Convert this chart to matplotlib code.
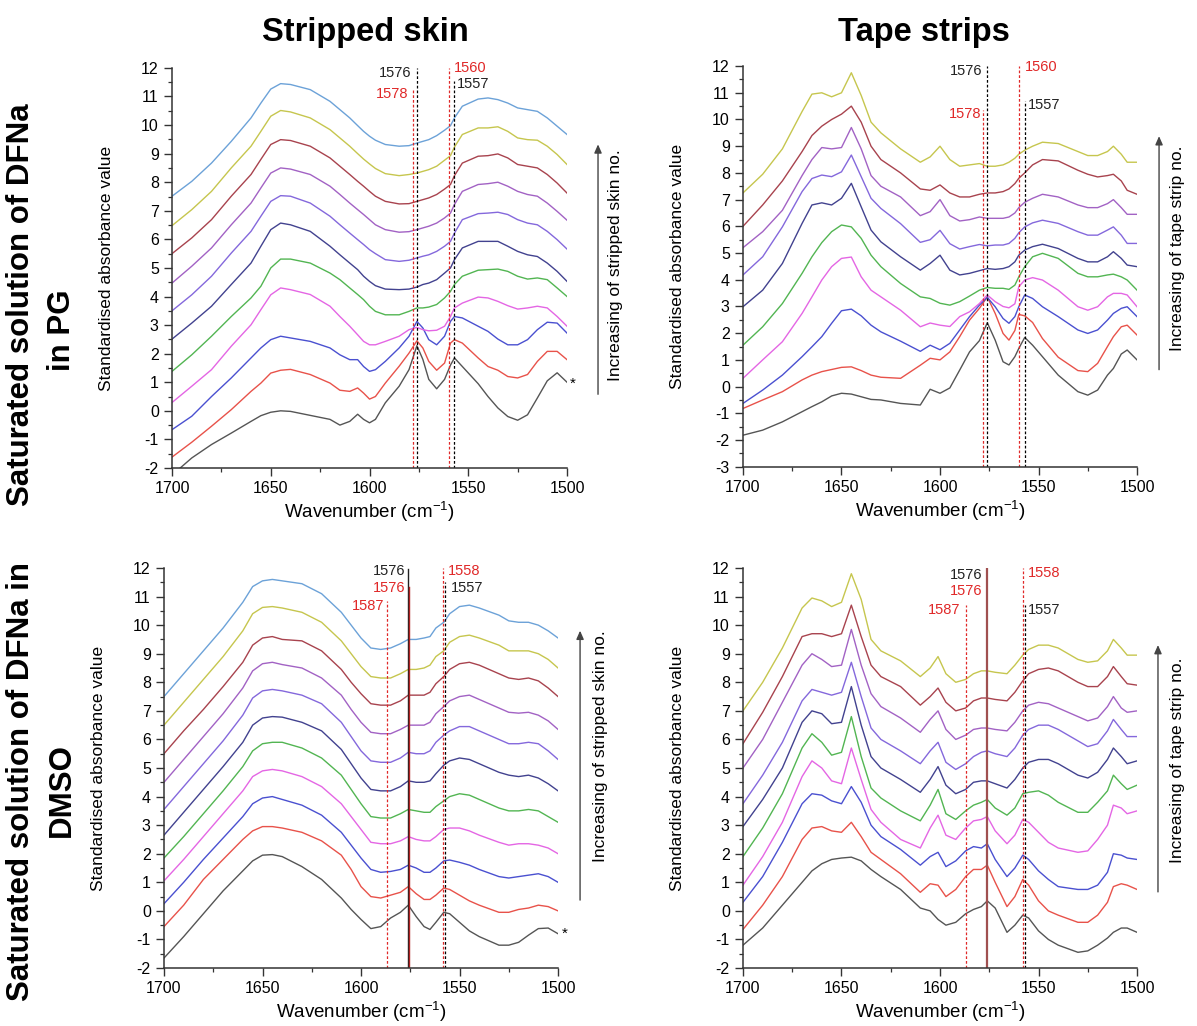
import numpy as np
import matplotlib
matplotlib.use('Agg')
import matplotlib.pyplot as plt
from matplotlib.ticker import MultipleLocator

plt.rcParams['font.family'] = ['Liberation Sans', 'DejaVu Sans']
plt.rcParams['mathtext.default'] = 'regular'
plt.rcParams['axes.unicode_minus'] = False

# colours of the spectra, bottom curve first
cores = ['#555555', '#e8524a', '#4a50d0', '#e466e4', '#52b552', '#42428f',
         '#8468dc', '#a262c4', '#a8434e', '#c6c64e', '#6ca2d8']

# ---- PG, stripped skin ----
wn_pg_skin = [1700, 1690, 1680, 1670, 1660, 1655, 1650, 1645, 1640, 1630, 1620, 1615, 1610,
              1606, 1603, 1600, 1597, 1592, 1585, 1580, 1576, 1573, 1570, 1566, 1562, 1559,
              1557, 1553, 1545, 1540, 1535, 1530, 1525, 1520, 1515, 1510, 1505, 1500]
pg_skin_1 = [-2.25, -1.65, -1.18, -0.78, -0.37, -0.17, -0.05, 0.0, -0.02, -0.16, -0.3, -0.5, -0.37,
             -0.12, -0.3, -0.42, -0.3, 0.28, 0.86, 1.44, 2.28, 1.8, 1.1, 0.77, 1.1, 1.6,
             1.85, 1.55, 0.95, 0.5, 0.1, -0.2, -0.33, -0.14, 0.45, 1.05, 1.33, 1.0]
pg_skin_2 = [-1.62, -1.1, -0.54, 0.04, 0.68, 0.97, 1.32, 1.42, 1.45, 1.27, 0.97, 0.72, 0.68,
             0.8, 0.62, 0.41, 0.5, 0.97, 1.56, 2.02, 2.45, 2.2, 1.73, 1.42, 1.67, 2.37,
             2.49, 2.37, 1.85, 1.55, 1.42, 1.2, 1.15, 1.27, 1.73, 2.08, 2.08, 1.79]
pg_skin_3 = [-0.66, -0.19, 0.5, 1.15, 1.85, 2.2, 2.49, 2.61, 2.55, 2.43, 2.2, 1.96, 1.79,
             1.79, 1.55, 1.38, 1.44, 1.73, 2.2, 2.61, 3.13, 2.9, 2.49, 2.31, 2.61, 3.13,
             3.3, 3.25, 2.96, 2.78, 2.51, 2.31, 2.31, 2.49, 2.84, 3.1, 3.07, 2.72]
pg_skin_4 = [0.29, 0.86, 1.44, 2.26, 3.01, 3.54, 4.06, 4.3, 4.24, 4.07, 3.66, 3.3, 2.96,
             2.66, 2.43, 2.31, 2.31, 2.43, 2.61, 2.84, 2.92, 2.84, 2.8, 2.82, 2.96, 3.3,
             3.6, 3.77, 3.98, 3.95, 3.83, 3.68, 3.56, 3.6, 3.66, 3.6, 3.3, 2.96]
pg_skin_5 = [1.38, 1.96, 2.61, 3.3, 3.95, 4.36, 5.0, 5.31, 5.31, 5.17, 4.82, 4.59, 4.3,
             4.07, 3.89, 3.66, 3.48, 3.36, 3.36, 3.48, 3.6, 3.6, 3.63, 3.72, 3.95, 4.18,
             4.42, 4.71, 4.92, 4.94, 4.96, 4.88, 4.71, 4.61, 4.65, 4.59, 4.3, 4.0]
pg_skin_6 = [2.51, 3.07, 3.66, 4.42, 5.17, 5.76, 6.34, 6.57, 6.51, 6.28, 5.76, 5.46, 5.17,
             4.94, 4.71, 4.53, 4.38, 4.26, 4.24, 4.26, 4.33, 4.42, 4.47, 4.59, 4.82, 5.0,
             5.29, 5.7, 5.93, 5.93, 5.93, 5.76, 5.58, 5.46, 5.4, 5.17, 4.88, 4.53]
pg_skin_7 = [3.5, 4.06, 4.71, 5.52, 6.28, 6.81, 7.33, 7.53, 7.51, 7.27, 6.81, 6.51, 6.22,
             5.99, 5.82, 5.64, 5.5, 5.29, 5.23, 5.27, 5.35, 5.41, 5.46, 5.58, 5.76, 5.93,
             6.22, 6.69, 6.9, 6.92, 6.95, 6.87, 6.69, 6.57, 6.51, 6.28, 5.99, 5.66]
pg_skin_8 = [4.47, 5.06, 5.7, 6.51, 7.27, 7.8, 8.32, 8.5, 8.46, 8.27, 7.86, 7.57, 7.27,
             7.04, 6.87, 6.69, 6.51, 6.34, 6.25, 6.27, 6.34, 6.4, 6.46, 6.57, 6.75, 6.92,
             7.22, 7.68, 7.92, 7.95, 8.0, 7.86, 7.68, 7.57, 7.51, 7.27, 6.98, 6.67]
pg_skin_9 = [5.5, 6.05, 6.69, 7.51, 8.27, 8.8, 9.32, 9.49, 9.46, 9.26, 8.85, 8.56, 8.27,
             8.03, 7.86, 7.68, 7.51, 7.33, 7.24, 7.25, 7.33, 7.39, 7.45, 7.57, 7.76, 7.92,
             8.23, 8.67, 8.91, 8.93, 8.99, 8.85, 8.62, 8.56, 8.5, 8.27, 7.97, 7.62]
pg_skin_10 = [6.48, 7.04, 7.68, 8.5, 9.26, 9.78, 10.31, 10.51, 10.46, 10.25, 9.84, 9.55, 9.26,
              9.0, 8.81, 8.64, 8.48, 8.3, 8.23, 8.27, 8.32, 8.38, 8.44, 8.56, 8.77, 8.93,
              9.23, 9.67, 9.9, 9.9, 9.94, 9.78, 9.55, 9.49, 9.47, 9.26, 8.97, 8.62]
pg_skin_11 = [7.51, 8.03, 8.67, 9.43, 10.25, 10.77, 11.26, 11.45, 11.42, 11.24, 10.83, 10.54, 10.25,
              9.98, 9.78, 9.61, 9.47, 9.32, 9.26, 9.28, 9.37, 9.43, 9.49, 9.63, 9.82, 9.98,
              10.25, 10.66, 10.91, 10.95, 10.89, 10.77, 10.6, 10.54, 10.48, 10.25, 9.96, 9.67]

# ---- PG, tape strips ----
wn_pg_tape = [1700, 1690, 1680, 1670, 1665, 1660, 1655, 1650, 1645, 1640, 1635, 1630, 1620,
              1610, 1605, 1600, 1595, 1590, 1585, 1580, 1576, 1572, 1568, 1565, 1562, 1560,
              1557, 1553, 1548, 1540, 1530, 1525, 1520, 1515, 1512, 1508, 1505, 1500]
pg_tape_1 = [-1.82, -1.63, -1.32, -0.94, -0.75, -0.57, -0.35, -0.25, -0.28, -0.38, -0.48, -0.5, -0.63,
             -0.69, -0.1, -0.25, -0.05, 0.62, 1.3, 1.72, 2.39, 1.74, 0.93, 0.81, 1.12, 1.43,
             1.84, 1.55, 1.12, 0.43, -0.19, -0.32, -0.13, 0.43, 0.68, 1.22, 1.37, 1.0]
pg_tape_2 = [-0.82, -0.5, -0.19, 0.25, 0.43, 0.56, 0.64, 0.72, 0.74, 0.6, 0.43, 0.35, 0.31,
             0.8, 1.06, 1.0, 1.3, 1.87, 2.49, 2.93, 3.36, 2.74, 1.99, 1.74, 2.1, 2.7,
             2.65, 2.4, 1.8, 1.1, 0.6, 0.56, 0.87, 1.5, 1.87, 2.24, 2.3, 1.93]
pg_tape_3 = [-0.63, -0.13, 0.43, 1.12, 1.49, 1.87, 2.37, 2.84, 2.9, 2.65, 2.3, 2.05, 1.7,
             1.32, 1.55, 1.38, 1.62, 2.12, 2.62, 3.05, 3.34, 2.99, 2.55, 2.37, 2.62, 2.99,
             3.43, 3.3, 2.99, 2.62, 2.12, 1.99, 2.12, 2.49, 2.74, 2.93, 2.99, 2.62]
pg_tape_4 = [0.31, 1.0, 1.68, 2.74, 3.36, 3.99, 4.49, 4.8, 4.85, 4.11, 3.61, 3.36, 2.86,
             2.24, 2.38, 2.3, 2.25, 2.62, 2.8, 3.11, 3.43, 3.18, 3.0, 2.95, 3.1, 3.74,
             3.99, 4.08, 3.99, 3.61, 2.99, 2.86, 2.99, 3.36, 3.49, 3.49, 3.43, 2.99]
pg_tape_5 = [1.55, 2.24, 3.11, 4.24, 4.86, 5.39, 5.8, 6.05, 5.98, 5.55, 4.92, 4.49, 3.86,
             3.36, 3.3, 3.12, 3.05, 3.18, 3.39, 3.61, 3.71, 3.68, 3.68, 3.64, 3.8, 4.11,
             4.49, 4.86, 4.99, 4.8, 4.24, 4.11, 4.11, 4.18, 4.21, 4.11, 3.99, 3.61]
pg_tape_6 = [2.99, 3.61, 4.61, 6.11, 6.8, 6.88, 6.8, 7.05, 7.61, 6.73, 5.86, 5.42, 4.86,
             4.36, 4.61, 4.92, 4.36, 4.18, 4.24, 4.34, 4.42, 4.39, 4.42, 4.49, 4.67, 4.92,
             5.11, 5.24, 5.33, 5.17, 4.8, 4.67, 4.67, 4.86, 5.05, 4.8, 4.55, 4.49]
pg_tape_7 = [4.18, 4.86, 5.98, 7.3, 7.79, 7.92, 7.86, 8.04, 8.67, 7.86, 7.05, 6.67, 6.1,
             5.4, 5.5, 5.85, 5.35, 5.15, 5.24, 5.32, 5.27, 5.3, 5.3, 5.36, 5.55, 5.76,
             5.98, 6.13, 6.23, 6.11, 5.8, 5.67, 5.67, 5.86, 5.98, 5.67, 5.36, 5.36]
pg_tape_8 = [5.2, 5.8, 6.6, 7.9, 8.5, 8.95, 8.9, 8.95, 9.7, 8.9, 7.9, 7.5, 7.1,
             6.4, 6.55, 7.0, 6.4, 6.2, 6.25, 6.35, 6.3, 6.3, 6.3, 6.35, 6.5, 6.7,
             6.9, 7.05, 7.2, 7.1, 6.8, 6.7, 6.7, 6.85, 7.0, 6.7, 6.45, 6.45]
pg_tape_9 = [6.0, 6.8, 7.7, 8.8, 9.4, 9.75, 10.0, 10.2, 10.5, 9.9, 9.0, 8.5, 8.0,
             7.4, 7.35, 7.55, 7.25, 7.1, 7.1, 7.2, 7.25, 7.25, 7.3, 7.4, 7.6, 7.8,
             8.0, 8.3, 8.5, 8.45, 8.1, 7.95, 7.85, 7.9, 7.95, 7.7, 7.35, 7.2]
pg_tape_10 = [7.25, 7.95, 8.9, 10.3, 10.95, 11.0, 10.85, 11.0, 11.75, 10.9, 9.9, 9.5, 8.9,
              8.4, 8.6, 9.0, 8.5, 8.25, 8.3, 8.35, 8.25, 8.25, 8.3, 8.4, 8.55, 8.7,
              8.85, 9.0, 9.15, 9.1, 8.8, 8.65, 8.65, 8.8, 9.0, 8.7, 8.4, 8.4]

# ---- DMSO, stripped skin ----
wn_dmso_skin = [1700, 1690, 1680, 1670, 1660, 1655, 1650, 1645, 1640, 1630, 1620, 1610, 1605,
                1600, 1595, 1590, 1585, 1580, 1576, 1572, 1568, 1565, 1562, 1558, 1555, 1550,
                1545, 1540, 1530, 1525, 1520, 1515, 1510, 1505, 1500]
dmso_skin_1 = [-1.65, -0.9, -0.1, 0.7, 1.4, 1.75, 1.95, 1.97, 1.9, 1.55, 1.1, 0.45, 0.05,
               -0.3, -0.62, -0.55, -0.25, -0.05, 0.2, -0.2, -0.55, -0.65, -0.4, -0.05, -0.1, -0.4,
               -0.7, -0.9, -1.2, -1.2, -1.1, -0.85, -0.62, -0.6, -0.8]
dmso_skin_2 = [-0.55, 0.2, 1.1, 1.8, 2.5, 2.8, 2.95, 2.95, 2.9, 2.75, 2.45, 1.95, 1.45,
               0.85, 0.5, 0.45, 0.55, 0.65, 0.85, 0.6, 0.4, 0.4, 0.55, 0.8, 0.75, 0.55,
               0.35, 0.2, -0.05, -0.05, 0.05, 0.1, 0.2, 0.15, 0.0]
dmso_skin_3 = [0.25, 1.0, 1.8, 2.55, 3.3, 3.75, 3.95, 4.0, 3.9, 3.7, 3.35, 2.75, 2.3,
               1.85, 1.45, 1.35, 1.38, 1.45, 1.6, 1.5, 1.35, 1.35, 1.5, 1.75, 1.78, 1.7,
               1.6, 1.45, 1.2, 1.15, 1.2, 1.25, 1.3, 1.2, 1.0]
dmso_skin_4 = [1.05, 1.8, 2.6, 3.4, 4.2, 4.7, 4.9, 4.95, 4.9, 4.7, 4.35, 3.75, 3.3,
               2.85, 2.4, 2.35, 2.35, 2.45, 2.6, 2.5, 2.45, 2.45, 2.6, 2.85, 2.9, 2.9,
               2.8, 2.65, 2.4, 2.3, 2.35, 2.35, 2.3, 2.2, 2.0]
dmso_skin_5 = [1.85, 2.6, 3.4, 4.2, 5.05, 5.6, 5.85, 5.9, 5.9, 5.7, 5.35, 4.75, 4.25,
               3.75, 3.3, 3.25, 3.25, 3.4, 3.55, 3.5, 3.45, 3.45, 3.65, 3.85, 4.0, 4.1,
               4.05, 3.9, 3.6, 3.5, 3.5, 3.55, 3.5, 3.3, 3.1]
dmso_skin_6 = [2.65, 3.45, 4.25, 5.05, 5.9, 6.5, 6.75, 6.8, 6.78, 6.6, 6.3, 5.65, 5.15,
               4.65, 4.25, 4.2, 4.2, 4.35, 4.55, 4.5, 4.5, 4.55, 4.8, 5.1, 5.25, 5.35,
               5.3, 5.15, 4.85, 4.75, 4.7, 4.75, 4.65, 4.45, 4.2]
dmso_skin_7 = [3.55, 4.35, 5.15, 5.95, 6.85, 7.45, 7.7, 7.75, 7.7, 7.55, 7.25, 6.6, 6.1,
               5.6, 5.25, 5.2, 5.2, 5.35, 5.55, 5.5, 5.5, 5.6, 5.9, 6.15, 6.3, 6.45,
               6.45, 6.3, 6.0, 5.85, 5.85, 5.9, 5.85, 5.6, 5.3]
dmso_skin_8 = [4.5, 5.3, 6.1, 6.9, 7.8, 8.4, 8.65, 8.7, 8.62, 8.5, 8.15, 7.55, 7.05,
               6.6, 6.25, 6.2, 6.2, 6.35, 6.5, 6.5, 6.5, 6.6, 6.9, 7.15, 7.35, 7.5,
               7.55, 7.4, 7.1, 6.95, 6.92, 6.95, 6.85, 6.65, 6.35]
dmso_skin_9 = [5.5, 6.3, 7.05, 7.85, 8.7, 9.3, 9.55, 9.6, 9.5, 9.45, 9.1, 8.45, 8.0,
               7.6, 7.25, 7.2, 7.2, 7.35, 7.55, 7.55, 7.55, 7.65, 7.95, 8.2, 8.45, 8.65,
               8.7, 8.6, 8.3, 8.15, 8.1, 8.15, 8.05, 7.8, 7.5]
dmso_skin_10 = [6.5, 7.3, 8.1, 8.9, 9.8, 10.4, 10.62, 10.65, 10.6, 10.45, 10.1, 9.45, 9.0,
                8.55, 8.2, 8.15, 8.15, 8.3, 8.45, 8.45, 8.5, 8.6, 8.9, 9.1, 9.4, 9.6,
                9.65, 9.55, 9.3, 9.1, 9.1, 9.1, 9.0, 8.8, 8.5]
dmso_skin_11 = [7.5, 8.3, 9.1, 9.9, 10.8, 11.35, 11.55, 11.6, 11.55, 11.45, 11.1, 10.45, 10.0,
                9.55, 9.2, 9.15, 9.2, 9.35, 9.5, 9.5, 9.55, 9.6, 9.9, 10.1, 10.4, 10.65,
                10.7, 10.6, 10.35, 10.15, 10.1, 10.1, 10.0, 9.8, 9.55]

# ---- DMSO, tape strips ----
wn_dmso_tape = [1700, 1690, 1680, 1670, 1665, 1660, 1655, 1650, 1645, 1640, 1635, 1630, 1620,
                1610, 1605, 1601, 1597, 1592, 1587, 1583, 1579, 1576, 1572, 1566, 1562, 1558,
                1555, 1550, 1545, 1540, 1530, 1525, 1520, 1515, 1512, 1508, 1505, 1500]
dmso_tape_1 = [-1.2, -0.6, 0.2, 1.0, 1.4, 1.65, 1.8, 1.85, 1.88, 1.75, 1.45, 1.2, 0.75,
               0.1, 0.0, -0.3, -0.5, -0.4, -0.1, 0.05, 0.15, 0.35, 0.1, -0.75, -0.5, -0.15,
               -0.25, -0.7, -1.0, -1.2, -1.45, -1.4, -1.2, -0.95, -0.75, -0.6, -0.6, -0.75]
dmso_tape_2 = [-0.65, 0.2, 1.2, 2.5, 2.9, 2.95, 2.8, 2.75, 3.1, 2.6, 2.05, 1.8, 1.3,
               0.65, 0.95, 0.9, 0.5, 0.75, 1.2, 1.45, 1.45, 1.6, 1.0, 0.15, 0.5, 1.1,
               0.9, 0.35, 0.0, -0.15, -0.4, -0.4, -0.15, 0.3, 0.85, 0.95, 0.9, 0.75]
dmso_tape_3 = [0.3, 1.2, 2.4, 3.75, 4.1, 4.05, 3.85, 3.75, 4.35, 3.8, 3.0, 2.6, 2.15,
               1.6, 1.9, 2.05, 1.55, 1.75, 2.1, 2.25, 2.2, 2.35, 1.8, 1.2, 1.5, 1.95,
               1.8, 1.4, 1.1, 0.85, 0.75, 0.75, 0.9, 1.35, 2.0, 1.95, 1.85, 1.8]
dmso_tape_4 = [0.9, 1.9, 3.1, 4.7, 5.25, 5.0, 4.55, 4.45, 5.7, 4.6, 3.55, 3.1, 2.5,
               2.2, 2.9, 3.35, 2.65, 2.5, 2.9, 3.15, 3.2, 3.3, 2.8, 2.35, 2.65, 3.2,
               3.1, 2.75, 2.4, 2.2, 2.05, 2.1, 2.5, 3.0, 3.7, 3.6, 3.4, 3.5]
dmso_tape_5 = [1.9, 2.9, 4.1, 5.7, 6.2, 5.9, 5.45, 5.55, 6.8, 5.4, 4.3, 3.95, 3.5,
               3.15, 3.7, 4.25, 3.4, 3.2, 3.5, 3.7, 3.8, 3.9, 3.6, 3.35, 3.6, 4.1,
               4.15, 4.2, 4.05, 3.8, 3.45, 3.45, 3.8, 4.2, 4.75, 4.45, 4.25, 4.4]
dmso_tape_6 = [2.95, 3.9, 5.0, 6.6, 7.0, 6.9, 6.55, 6.6, 7.85, 6.5, 5.4, 5.0, 4.6,
               4.15, 4.6, 5.05, 4.4, 4.1, 4.25, 4.5, 4.55, 4.55, 4.45, 4.3, 4.6, 5.0,
               5.2, 5.3, 5.3, 5.15, 4.75, 4.65, 4.85, 5.3, 5.7, 5.4, 5.15, 5.25]
dmso_tape_7 = [3.75, 4.75, 5.9, 7.35, 7.75, 7.65, 7.55, 7.65, 8.7, 7.5, 6.4, 6.0, 5.6,
               5.15, 5.6, 5.9, 5.2, 4.95, 5.15, 5.4, 5.55, 5.6, 5.5, 5.4, 5.7, 6.15,
               6.35, 6.5, 6.5, 6.35, 5.95, 5.75, 5.85, 6.3, 6.7, 6.35, 6.1, 6.1]
dmso_tape_8 = [5.0, 6.0, 7.3, 8.6, 9.0, 8.8, 8.55, 8.6, 9.85, 8.6, 7.6, 7.15, 6.75,
               6.25, 6.7, 7.0, 6.35, 6.0, 6.15, 6.35, 6.4, 6.4, 6.35, 6.3, 6.6, 7.0,
               7.2, 7.3, 7.25, 7.1, 6.8, 6.65, 6.75, 7.15, 7.5, 7.1, 6.95, 7.0]
dmso_tape_9 = [5.85, 6.95, 8.2, 9.6, 9.7, 9.7, 9.6, 9.7, 10.7, 9.6, 8.6, 8.2, 7.85,
               7.2, 7.5, 7.8, 7.3, 7.0, 7.1, 7.35, 7.45, 7.45, 7.4, 7.35, 7.65, 8.05,
               8.3, 8.45, 8.5, 8.4, 8.0, 7.85, 7.85, 8.2, 8.55, 8.2, 7.95, 7.9]
dmso_tape_10 = [7.0, 8.0, 9.2, 10.6, 10.95, 10.85, 10.65, 10.8, 11.8, 10.9, 9.5, 9.1, 8.75,
                8.2, 8.5, 8.9, 8.3, 8.0, 8.1, 8.3, 8.4, 8.4, 8.35, 8.3, 8.6, 8.95,
                9.15, 9.3, 9.3, 9.2, 8.8, 8.7, 8.75, 9.1, 9.5, 9.2, 8.95, 8.95]

# marked band positions (cm-1)
pg_bandas_preto = [1576, 1557]
pg_bandas_verm = [1578, 1560]
dmso_bandas_preto = [1576, 1557]
dmso_bandas_verm = [1587, 1576, 1558]

VERM = '#e02828'
TRAC = (0, (2.2, 1.6))


def painel(ax, wn, curvas, ymin):
    for y, c in zip(curvas, cores):
        ax.plot(wn, y, color=c, lw=1.0)
    ax.set_xlim(1700, 1500)
    ax.set_ylim(ymin, 12)
    ax.spines['top'].set_visible(False)
    ax.spines['right'].set_visible(False)
    for s in ['left', 'bottom']:
        ax.spines[s].set_linewidth(1.1)
        ax.spines[s].set_color('#333333')
    ax.set_xticks([1700, 1650, 1600, 1550, 1500])
    ax.xaxis.set_minor_locator(MultipleLocator(25))
    ax.set_yticks(np.arange(ymin, 13, 1))
    ax.yaxis.set_minor_locator(MultipleLocator(0.5))
    ax.tick_params(which='major', direction='out', length=6, width=1.0,
                   labelsize=11.5, color='#333333')
    ax.tick_params(which='minor', direction='out', length=3, width=0.9, color='#333333')
    ax.set_xlabel('Wavenumber (cm$^{-1}$)', fontsize=13.5, labelpad=3)
    ax.set_ylabel('Standardised absorbance value', fontsize=12.5)
    ax.yaxis.set_label_coords(-0.148, 0.5)


def linha(ax, x, y0, y1, cor, estilo=TRAC, lw=0.9):
    ax.plot([x, x], [y0, y1], color=cor, ls=estilo, lw=lw)


def rotulo(ax, x, y, txt, cor, ha):
    ax.text(x, y, txt, color=cor, ha=ha, va='center', fontsize=10.5)


fig = plt.figure(figsize=(11.97, 10.26), dpi=100)

ax1 = fig.add_axes([0.1437, 0.5439, 0.3300, 0.3899])
ax2 = fig.add_axes([0.6207, 0.5451, 0.3292, 0.3905])
ax3 = fig.add_axes([0.1370, 0.0565, 0.3292, 0.3899])
ax4 = fig.add_axes([0.6207, 0.0565, 0.3292, 0.3899])

painel(ax1, wn_pg_skin, [pg_skin_1, pg_skin_2, pg_skin_3, pg_skin_4, pg_skin_5, pg_skin_6,
                         pg_skin_7, pg_skin_8, pg_skin_9, pg_skin_10, pg_skin_11], -2)
painel(ax2, wn_pg_tape, [pg_tape_1, pg_tape_2, pg_tape_3, pg_tape_4, pg_tape_5, pg_tape_6,
                         pg_tape_7, pg_tape_8, pg_tape_9, pg_tape_10], -3)
painel(ax3, wn_dmso_skin, [dmso_skin_1, dmso_skin_2, dmso_skin_3, dmso_skin_4, dmso_skin_5,
                           dmso_skin_6, dmso_skin_7, dmso_skin_8, dmso_skin_9, dmso_skin_10,
                           dmso_skin_11], -2)
painel(ax4, wn_dmso_tape, [dmso_tape_1, dmso_tape_2, dmso_tape_3, dmso_tape_4, dmso_tape_5,
                           dmso_tape_6, dmso_tape_7, dmso_tape_8, dmso_tape_9, dmso_tape_10], -2)

# PG, stripped skin: band lines
linha(ax1, pg_bandas_preto[0], -2, 12, 'k')
linha(ax1, pg_bandas_verm[0], -2, 11.25, VERM)
linha(ax1, pg_bandas_verm[1], -2, 12, VERM)
linha(ax1, pg_bandas_preto[1], -2, 11.55, 'k')
rotulo(ax1, 1578.6, 11.82, str(pg_bandas_preto[0]), '#222222', 'right')
rotulo(ax1, 1580.3, 11.07, str(pg_bandas_verm[0]), VERM, 'right')
rotulo(ax1, 1557.3, 12.0, str(pg_bandas_verm[1]), VERM, 'left')
rotulo(ax1, 1555.6, 11.42, str(pg_bandas_preto[1]), '#222222', 'left')
ax1.text(1498.8, 0.95, '*', fontsize=11, ha='left', va='center', clip_on=False)

# PG, tape strips
linha(ax2, pg_bandas_preto[0], -3, 12, 'k')
linha(ax2, pg_bandas_verm[0], -3, 10.35, VERM)
linha(ax2, pg_bandas_verm[1], -3, 12, VERM)
linha(ax2, pg_bandas_preto[1], -3, 10.7, 'k')
rotulo(ax2, 1578.4, 11.82, str(pg_bandas_preto[0]), '#222222', 'right')
rotulo(ax2, 1578.8, 10.22, str(pg_bandas_verm[0]), VERM, 'right')
rotulo(ax2, 1556.8, 11.95, str(pg_bandas_verm[1]), VERM, 'left')
rotulo(ax2, 1555.6, 10.55, str(pg_bandas_preto[1]), '#222222', 'left')

# DMSO, stripped skin
linha(ax3, dmso_bandas_verm[0], -2, 10.85, VERM)
linha(ax3, dmso_bandas_preto[0], -2, 11.95, '#222222', '-', 1.0)
linha(ax3, dmso_bandas_verm[1] - 0.25, -2, 11.35, '#b02020', '-', 1.0)
linha(ax3, dmso_bandas_verm[2] + 0.4, -2, 12, VERM)
linha(ax3, dmso_bandas_preto[1] + 0.3, -2, 11.5, 'k')
rotulo(ax3, 1577.4, 11.88, str(dmso_bandas_preto[0]), '#222222', 'right')
rotulo(ax3, 1577.4, 11.3, str(dmso_bandas_verm[1]), VERM, 'right')
rotulo(ax3, 1588.2, 10.66, str(dmso_bandas_verm[0]), VERM, 'right')
rotulo(ax3, 1555.8, 11.9, str(dmso_bandas_verm[2]), VERM, 'left')
rotulo(ax3, 1554.3, 11.3, str(dmso_bandas_preto[1]), '#222222', 'left')
ax3.text(1498.2, -0.8, '*', fontsize=11, ha='left', va='center', clip_on=False)

# DMSO, tape strips
linha(ax4, dmso_bandas_verm[0], -2, 10.72, VERM)
linha(ax4, dmso_bandas_preto[0], -2, 12, '#a05050', '-', 1.6)
linha(ax4, dmso_bandas_verm[2], -2, 12, VERM)
linha(ax4, dmso_bandas_preto[1], -2, 10.72, 'k')
rotulo(ax4, 1578.3, 11.74, str(dmso_bandas_preto[0]), '#222222', 'right')
rotulo(ax4, 1578.3, 11.18, str(dmso_bandas_verm[1]), VERM, 'right')
rotulo(ax4, 1589.8, 10.54, str(dmso_bandas_verm[0]), VERM, 'right')
rotulo(ax4, 1555.6, 11.83, str(dmso_bandas_verm[2]), VERM, 'left')
rotulo(ax4, 1555.6, 10.54, str(dmso_bandas_preto[1]), '#222222', 'left')

# column titles
fig.text(0.305, 0.968, 'Stripped skin', fontsize=23.5, fontweight='bold', ha='center', va='center')
fig.text(0.772, 0.968, 'Tape strips', fontsize=23.5, fontweight='bold', ha='center', va='center')

# row labels
fig.text(0.0175, 0.703, 'Saturated solution of DFNa', fontsize=22.5, fontweight='bold',
         rotation=90, ha='center', va='center')
fig.text(0.052, 0.678, 'in PG', fontsize=22.5, fontweight='bold',
         rotation=90, ha='center', va='center')
fig.text(0.0175, 0.238, 'Saturated solution of DFNa in', fontsize=22.5, fontweight='bold',
         rotation=90, ha='center', va='center')
fig.text(0.052, 0.230, 'DMSO', fontsize=22.5, fontweight='bold',
         rotation=90, ha='center', va='center')

# arrows on the right side
setas = [(0.4996, 0.613, 0.862, 0.5146, 0.742, 'Increasing of stripped skin no.'),
         (0.9683, 0.637, 0.870, 0.9841, 0.758, 'Increasing of tape strip no.'),
         (0.4846, 0.120, 0.388, 0.5013, 0.273, 'Increasing of stripped skin no.'),
         (0.9674, 0.128, 0.374, 0.9841, 0.259, 'Increasing of tape strip no.')]
for xs, y0, y1, xt, yt, txt in setas:
    fig.add_artist(matplotlib.patches.FancyArrowPatch(
        (xs, y0), (xs, y1), transform=fig.transFigure, arrowstyle='-|>,head_length=5,head_width=2.2',
        color='#444444', lw=1.0, mutation_scale=1))
    fig.text(xt, yt, txt, fontsize=12.5, rotation=90, ha='center', va='center')

fig.savefig('out.png', dpi=100)
